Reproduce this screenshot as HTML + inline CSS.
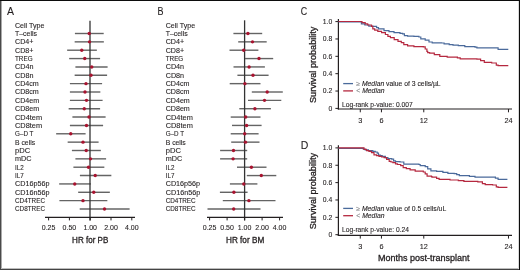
<!DOCTYPE html>
<html><head><meta charset="utf-8"><style>
html,body{margin:0;padding:0;background:#fff;}
#fig{position:relative;width:520px;height:270px;overflow:hidden;background:#fff;}
svg{position:absolute;left:0;top:0;font-family:"Liberation Sans", sans-serif;will-change:transform;}
</style></head><body><div id="fig">
<svg width="520" height="270" viewBox="0 0 520 270">
<rect x="0" y="0" width="520" height="270" fill="#fff"/>
<text x="6.9" y="14.8" font-size="10.5" fill="#231f20" stroke="#231f20" stroke-width="0.1">A</text>
<text x="15" y="27.74" font-size="7.3" fill="#231f20" stroke="#231f20" stroke-width="0.1" textLength="29.4" lengthAdjust="spacingAndGlyphs">Cell Type</text>
<text x="15" y="35.95" font-size="7.3" fill="#231f20" stroke="#231f20" stroke-width="0.1" textLength="22.0" lengthAdjust="spacingAndGlyphs">T–cells</text>
<text x="15" y="44.31" font-size="7.3" fill="#231f20" stroke="#231f20" stroke-width="0.1" textLength="18.4" lengthAdjust="spacingAndGlyphs">CD4+</text>
<text x="15" y="52.66" font-size="7.3" fill="#231f20" stroke="#231f20" stroke-width="0.1" textLength="18.4" lengthAdjust="spacingAndGlyphs">CD8+</text>
<text x="15" y="61.02" font-size="7.3" fill="#231f20" stroke="#231f20" stroke-width="0.1" textLength="17.6" lengthAdjust="spacingAndGlyphs">TREG</text>
<text x="15" y="69.38" font-size="7.3" fill="#231f20" stroke="#231f20" stroke-width="0.1" textLength="18.4" lengthAdjust="spacingAndGlyphs">CD4n</text>
<text x="15" y="77.73" font-size="7.3" fill="#231f20" stroke="#231f20" stroke-width="0.1" textLength="18.4" lengthAdjust="spacingAndGlyphs">CD8n</text>
<text x="15" y="86.09" font-size="7.3" fill="#231f20" stroke="#231f20" stroke-width="0.1" textLength="23.8" lengthAdjust="spacingAndGlyphs">CD4cm</text>
<text x="15" y="94.45" font-size="7.3" fill="#231f20" stroke="#231f20" stroke-width="0.1" textLength="23.8" lengthAdjust="spacingAndGlyphs">CD8cm</text>
<text x="15" y="102.81" font-size="7.3" fill="#231f20" stroke="#231f20" stroke-width="0.1" textLength="24.1" lengthAdjust="spacingAndGlyphs">CD4em</text>
<text x="15" y="111.16" font-size="7.3" fill="#231f20" stroke="#231f20" stroke-width="0.1" textLength="24.1" lengthAdjust="spacingAndGlyphs">CD8em</text>
<text x="15" y="119.52" font-size="7.3" fill="#231f20" stroke="#231f20" stroke-width="0.1" textLength="27.1" lengthAdjust="spacingAndGlyphs">CD4tem</text>
<text x="15" y="127.88" font-size="7.3" fill="#231f20" stroke="#231f20" stroke-width="0.1" textLength="27.1" lengthAdjust="spacingAndGlyphs">CD8tem</text>
<text x="15" y="136.23" font-size="7.3" fill="#231f20" stroke="#231f20" stroke-width="0.1" textLength="18.4" lengthAdjust="spacingAndGlyphs">G–D T</text>
<text x="15" y="144.59" font-size="7.3" fill="#231f20" stroke="#231f20" stroke-width="0.1" textLength="20.1" lengthAdjust="spacingAndGlyphs">B cells</text>
<text x="15" y="152.95" font-size="7.3" fill="#231f20" stroke="#231f20" stroke-width="0.1" textLength="15.2" lengthAdjust="spacingAndGlyphs">pDC</text>
<text x="15" y="161.3" font-size="7.3" fill="#231f20" stroke="#231f20" stroke-width="0.1" textLength="16.5" lengthAdjust="spacingAndGlyphs">mDC</text>
<text x="15" y="169.66" font-size="7.3" fill="#231f20" stroke="#231f20" stroke-width="0.1" textLength="8.7" lengthAdjust="spacingAndGlyphs">IL2</text>
<text x="15" y="178.02" font-size="7.3" fill="#231f20" stroke="#231f20" stroke-width="0.1" textLength="8.7" lengthAdjust="spacingAndGlyphs">IL7</text>
<text x="15" y="186.38" font-size="7.3" fill="#231f20" stroke="#231f20" stroke-width="0.1" textLength="34.4" lengthAdjust="spacingAndGlyphs">CD16p56p</text>
<text x="15" y="194.73" font-size="7.3" fill="#231f20" stroke="#231f20" stroke-width="0.1" textLength="34.6" lengthAdjust="spacingAndGlyphs">CD16n56p</text>
<text x="15" y="203.09" font-size="7.3" fill="#231f20" stroke="#231f20" stroke-width="0.1" textLength="30.0" lengthAdjust="spacingAndGlyphs">CD4TREC</text>
<text x="15" y="211.45" font-size="7.3" fill="#231f20" stroke="#231f20" stroke-width="0.1" textLength="30.0" lengthAdjust="spacingAndGlyphs">CD8TREC</text>
<line x1="74.9" y1="33.5" x2="103.7" y2="33.5" stroke="#646464" stroke-width="1.4"/>
<line x1="74.65" y1="41.86" x2="103.85" y2="41.86" stroke="#646464" stroke-width="1.4"/>
<line x1="67.15" y1="50.21" x2="96.85" y2="50.21" stroke="#646464" stroke-width="1.4"/>
<line x1="69.15" y1="58.57" x2="100.1" y2="58.57" stroke="#646464" stroke-width="1.4"/>
<line x1="75.4" y1="66.93" x2="107.6" y2="66.93" stroke="#646464" stroke-width="1.4"/>
<line x1="74.65" y1="75.28" x2="107.1" y2="75.28" stroke="#646464" stroke-width="1.4"/>
<line x1="69.9" y1="83.64" x2="102.1" y2="83.64" stroke="#646464" stroke-width="1.4"/>
<line x1="69.9" y1="92" x2="100.35" y2="92" stroke="#646464" stroke-width="1.4"/>
<line x1="69.9" y1="100.36" x2="102.6" y2="100.36" stroke="#646464" stroke-width="1.4"/>
<line x1="68.65" y1="108.71" x2="100.1" y2="108.71" stroke="#646464" stroke-width="1.4"/>
<line x1="72.4" y1="117.07" x2="105.6" y2="117.07" stroke="#646464" stroke-width="1.4"/>
<line x1="69.9" y1="125.43" x2="103.1" y2="125.43" stroke="#646464" stroke-width="1.4"/>
<line x1="56.15" y1="133.78" x2="85.6" y2="133.78" stroke="#646464" stroke-width="1.4"/>
<line x1="67.65" y1="142.14" x2="98.6" y2="142.14" stroke="#646464" stroke-width="1.4"/>
<line x1="71.9" y1="150.5" x2="100.85" y2="150.5" stroke="#646464" stroke-width="1.4"/>
<line x1="75.4" y1="158.85" x2="106.1" y2="158.85" stroke="#646464" stroke-width="1.4"/>
<line x1="73.4" y1="167.21" x2="104.35" y2="167.21" stroke="#646464" stroke-width="1.4"/>
<line x1="79.9" y1="175.57" x2="111.35" y2="175.57" stroke="#646464" stroke-width="1.4"/>
<line x1="59.15" y1="183.93" x2="90.85" y2="183.93" stroke="#646464" stroke-width="1.4"/>
<line x1="78.15" y1="192.28" x2="109.85" y2="192.28" stroke="#646464" stroke-width="1.4"/>
<line x1="59.4" y1="200.64" x2="107.35" y2="200.64" stroke="#646464" stroke-width="1.4"/>
<line x1="79.7" y1="209" x2="129.6" y2="209" stroke="#646464" stroke-width="1.4"/>
<line x1="90" y1="20.8" x2="90" y2="220.4" stroke="#333" stroke-width="1.3"/>
<circle cx="89.2" cy="33.5" r="1.7" fill="#a8132f"/>
<circle cx="89.5" cy="41.86" r="1.7" fill="#a8132f"/>
<circle cx="81.75" cy="50.21" r="1.7" fill="#a8132f"/>
<circle cx="84.75" cy="58.57" r="1.7" fill="#a8132f"/>
<circle cx="91.75" cy="66.93" r="1.7" fill="#a8132f"/>
<circle cx="91" cy="75.28" r="1.7" fill="#a8132f"/>
<circle cx="86" cy="83.64" r="1.7" fill="#a8132f"/>
<circle cx="85" cy="92" r="1.7" fill="#a8132f"/>
<circle cx="86.5" cy="100.36" r="1.7" fill="#a8132f"/>
<circle cx="84.25" cy="108.71" r="1.7" fill="#a8132f"/>
<circle cx="89" cy="117.07" r="1.7" fill="#a8132f"/>
<circle cx="86.5" cy="125.43" r="1.7" fill="#a8132f"/>
<circle cx="70.75" cy="133.78" r="1.7" fill="#a8132f"/>
<circle cx="83" cy="142.14" r="1.7" fill="#a8132f"/>
<circle cx="86.25" cy="150.5" r="1.7" fill="#a8132f"/>
<circle cx="90.5" cy="158.85" r="1.7" fill="#a8132f"/>
<circle cx="88.5" cy="167.21" r="1.7" fill="#a8132f"/>
<circle cx="95.25" cy="175.57" r="1.7" fill="#a8132f"/>
<circle cx="74.75" cy="183.93" r="1.7" fill="#a8132f"/>
<circle cx="93.75" cy="192.28" r="1.7" fill="#a8132f"/>
<circle cx="83" cy="200.64" r="1.7" fill="#a8132f"/>
<circle cx="104.5" cy="209" r="1.7" fill="#a8132f"/>
<line x1="45" y1="217.4" x2="135" y2="217.4" stroke="#231f20" stroke-width="1.2"/>
<line x1="48.6" y1="217.4" x2="48.6" y2="220.4" stroke="#231f20" stroke-width="1"/>
<text x="48.6" y="229.8" font-size="7" text-anchor="middle" fill="#231f20" stroke="#231f20" stroke-width="0.1">0.25</text>
<line x1="69.4" y1="217.4" x2="69.4" y2="220.4" stroke="#231f20" stroke-width="1"/>
<text x="69.4" y="229.8" font-size="7" text-anchor="middle" fill="#231f20" stroke="#231f20" stroke-width="0.1">0.50</text>
<line x1="90.2" y1="217.4" x2="90.2" y2="220.4" stroke="#231f20" stroke-width="1"/>
<text x="90.2" y="229.8" font-size="7" text-anchor="middle" fill="#231f20" stroke="#231f20" stroke-width="0.1">1.00</text>
<line x1="111" y1="217.4" x2="111" y2="220.4" stroke="#231f20" stroke-width="1"/>
<text x="111" y="229.8" font-size="7" text-anchor="middle" fill="#231f20" stroke="#231f20" stroke-width="0.1">2.00</text>
<line x1="131.8" y1="217.4" x2="131.8" y2="220.4" stroke="#231f20" stroke-width="1"/>
<text x="131.8" y="229.8" font-size="7" text-anchor="middle" fill="#231f20" stroke="#231f20" stroke-width="0.1">4.00</text>
<text x="90.2" y="243.1" font-size="8.6" text-anchor="middle" fill="#231f20" stroke="#231f20" stroke-width="0.3" textLength="36.2" lengthAdjust="spacingAndGlyphs">HR for PB</text>
<text x="157.6" y="14.8" font-size="10.5" fill="#231f20" stroke="#231f20" stroke-width="0.1" textLength="6.0" lengthAdjust="spacingAndGlyphs">B</text>
<text x="165.7" y="27.74" font-size="7.3" fill="#231f20" stroke="#231f20" stroke-width="0.1" textLength="29.4" lengthAdjust="spacingAndGlyphs">Cell Type</text>
<text x="165.7" y="35.95" font-size="7.3" fill="#231f20" stroke="#231f20" stroke-width="0.1" textLength="22.0" lengthAdjust="spacingAndGlyphs">T–cells</text>
<text x="165.7" y="44.31" font-size="7.3" fill="#231f20" stroke="#231f20" stroke-width="0.1" textLength="18.4" lengthAdjust="spacingAndGlyphs">CD4+</text>
<text x="165.7" y="52.66" font-size="7.3" fill="#231f20" stroke="#231f20" stroke-width="0.1" textLength="18.4" lengthAdjust="spacingAndGlyphs">CD8+</text>
<text x="165.7" y="61.02" font-size="7.3" fill="#231f20" stroke="#231f20" stroke-width="0.1" textLength="17.6" lengthAdjust="spacingAndGlyphs">TREG</text>
<text x="165.7" y="69.38" font-size="7.3" fill="#231f20" stroke="#231f20" stroke-width="0.1" textLength="18.4" lengthAdjust="spacingAndGlyphs">CD4n</text>
<text x="165.7" y="77.73" font-size="7.3" fill="#231f20" stroke="#231f20" stroke-width="0.1" textLength="18.4" lengthAdjust="spacingAndGlyphs">CD8n</text>
<text x="165.7" y="86.09" font-size="7.3" fill="#231f20" stroke="#231f20" stroke-width="0.1" textLength="23.8" lengthAdjust="spacingAndGlyphs">CD4cm</text>
<text x="165.7" y="94.45" font-size="7.3" fill="#231f20" stroke="#231f20" stroke-width="0.1" textLength="23.8" lengthAdjust="spacingAndGlyphs">CD8cm</text>
<text x="165.7" y="102.81" font-size="7.3" fill="#231f20" stroke="#231f20" stroke-width="0.1" textLength="24.1" lengthAdjust="spacingAndGlyphs">CD4em</text>
<text x="165.7" y="111.16" font-size="7.3" fill="#231f20" stroke="#231f20" stroke-width="0.1" textLength="24.1" lengthAdjust="spacingAndGlyphs">CD8em</text>
<text x="165.7" y="119.52" font-size="7.3" fill="#231f20" stroke="#231f20" stroke-width="0.1" textLength="27.1" lengthAdjust="spacingAndGlyphs">CD4tem</text>
<text x="165.7" y="127.88" font-size="7.3" fill="#231f20" stroke="#231f20" stroke-width="0.1" textLength="27.1" lengthAdjust="spacingAndGlyphs">CD8tem</text>
<text x="165.7" y="136.23" font-size="7.3" fill="#231f20" stroke="#231f20" stroke-width="0.1" textLength="18.4" lengthAdjust="spacingAndGlyphs">G–D T</text>
<text x="165.7" y="144.59" font-size="7.3" fill="#231f20" stroke="#231f20" stroke-width="0.1" textLength="20.1" lengthAdjust="spacingAndGlyphs">B cells</text>
<text x="165.7" y="152.95" font-size="7.3" fill="#231f20" stroke="#231f20" stroke-width="0.1" textLength="15.2" lengthAdjust="spacingAndGlyphs">pDC</text>
<text x="165.7" y="161.3" font-size="7.3" fill="#231f20" stroke="#231f20" stroke-width="0.1" textLength="16.5" lengthAdjust="spacingAndGlyphs">mDC</text>
<text x="165.7" y="169.66" font-size="7.3" fill="#231f20" stroke="#231f20" stroke-width="0.1" textLength="8.7" lengthAdjust="spacingAndGlyphs">IL2</text>
<text x="165.7" y="178.02" font-size="7.3" fill="#231f20" stroke="#231f20" stroke-width="0.1" textLength="8.7" lengthAdjust="spacingAndGlyphs">IL7</text>
<text x="165.7" y="186.38" font-size="7.3" fill="#231f20" stroke="#231f20" stroke-width="0.1" textLength="34.4" lengthAdjust="spacingAndGlyphs">CD16p56p</text>
<text x="165.7" y="194.73" font-size="7.3" fill="#231f20" stroke="#231f20" stroke-width="0.1" textLength="34.6" lengthAdjust="spacingAndGlyphs">CD16n56p</text>
<text x="165.7" y="203.09" font-size="7.3" fill="#231f20" stroke="#231f20" stroke-width="0.1" textLength="30.0" lengthAdjust="spacingAndGlyphs">CD4TREC</text>
<text x="165.7" y="211.45" font-size="7.3" fill="#231f20" stroke="#231f20" stroke-width="0.1" textLength="30.0" lengthAdjust="spacingAndGlyphs">CD8TREC</text>
<line x1="233.4" y1="33.5" x2="262.2" y2="33.5" stroke="#646464" stroke-width="1.4"/>
<line x1="238.2" y1="41.86" x2="266.7" y2="41.86" stroke="#646464" stroke-width="1.4"/>
<line x1="229.5" y1="50.21" x2="258.4" y2="50.21" stroke="#646464" stroke-width="1.4"/>
<line x1="245.1" y1="58.57" x2="273.2" y2="58.57" stroke="#646464" stroke-width="1.4"/>
<line x1="233.5" y1="66.93" x2="264.9" y2="66.93" stroke="#646464" stroke-width="1.4"/>
<line x1="237.4" y1="75.28" x2="268.6" y2="75.28" stroke="#646464" stroke-width="1.4"/>
<line x1="229.7" y1="83.64" x2="260.5" y2="83.64" stroke="#646464" stroke-width="1.4"/>
<line x1="251.8" y1="92" x2="282.8" y2="92" stroke="#646464" stroke-width="1.4"/>
<line x1="248" y1="100.36" x2="281.3" y2="100.36" stroke="#646464" stroke-width="1.4"/>
<line x1="239.3" y1="108.71" x2="270.9" y2="108.71" stroke="#646464" stroke-width="1.4"/>
<line x1="230.7" y1="117.07" x2="260.5" y2="117.07" stroke="#646464" stroke-width="1.4"/>
<line x1="232" y1="125.43" x2="261.6" y2="125.43" stroke="#646464" stroke-width="1.4"/>
<line x1="230.7" y1="133.78" x2="258.6" y2="133.78" stroke="#646464" stroke-width="1.4"/>
<line x1="231.2" y1="142.14" x2="259.5" y2="142.14" stroke="#646464" stroke-width="1.4"/>
<line x1="220.1" y1="150.5" x2="247.2" y2="150.5" stroke="#646464" stroke-width="1.4"/>
<line x1="220.1" y1="158.85" x2="247.2" y2="158.85" stroke="#646464" stroke-width="1.4"/>
<line x1="237" y1="167.21" x2="266.5" y2="167.21" stroke="#646464" stroke-width="1.4"/>
<line x1="246.8" y1="175.57" x2="276.3" y2="175.57" stroke="#646464" stroke-width="1.4"/>
<line x1="229.9" y1="183.93" x2="257.4" y2="183.93" stroke="#646464" stroke-width="1.4"/>
<line x1="219.9" y1="192.28" x2="247.6" y2="192.28" stroke="#646464" stroke-width="1.4"/>
<line x1="222.8" y1="200.64" x2="275.5" y2="200.64" stroke="#646464" stroke-width="1.4"/>
<line x1="207.5" y1="209" x2="260.5" y2="209" stroke="#646464" stroke-width="1.4"/>
<line x1="244.6" y1="20.3" x2="244.6" y2="220.4" stroke="#333" stroke-width="1.3"/>
<circle cx="247.9" cy="33.5" r="1.7" fill="#a8132f"/>
<circle cx="252.5" cy="41.86" r="1.7" fill="#a8132f"/>
<circle cx="243.7" cy="50.21" r="1.7" fill="#a8132f"/>
<circle cx="259" cy="58.57" r="1.7" fill="#a8132f"/>
<circle cx="249.1" cy="66.93" r="1.7" fill="#a8132f"/>
<circle cx="253" cy="75.28" r="1.7" fill="#a8132f"/>
<circle cx="244.9" cy="83.64" r="1.7" fill="#a8132f"/>
<circle cx="267.2" cy="92" r="1.7" fill="#a8132f"/>
<circle cx="264.5" cy="100.36" r="1.7" fill="#a8132f"/>
<circle cx="254.9" cy="108.71" r="1.7" fill="#a8132f"/>
<circle cx="245.7" cy="117.07" r="1.7" fill="#a8132f"/>
<circle cx="246.6" cy="125.43" r="1.7" fill="#a8132f"/>
<circle cx="244.7" cy="133.78" r="1.7" fill="#a8132f"/>
<circle cx="245.5" cy="142.14" r="1.7" fill="#a8132f"/>
<circle cx="233.5" cy="150.5" r="1.7" fill="#a8132f"/>
<circle cx="233.1" cy="158.85" r="1.7" fill="#a8132f"/>
<circle cx="251.4" cy="167.21" r="1.7" fill="#a8132f"/>
<circle cx="261.3" cy="175.57" r="1.7" fill="#a8132f"/>
<circle cx="243.8" cy="183.93" r="1.7" fill="#a8132f"/>
<circle cx="233.9" cy="192.28" r="1.7" fill="#a8132f"/>
<circle cx="248.9" cy="200.64" r="1.7" fill="#a8132f"/>
<circle cx="233.7" cy="209" r="1.7" fill="#a8132f"/>
<line x1="207" y1="217.4" x2="283" y2="217.4" stroke="#231f20" stroke-width="1.2"/>
<line x1="209.6" y1="217.4" x2="209.6" y2="220.4" stroke="#231f20" stroke-width="1"/>
<text x="209.6" y="229.8" font-size="7" text-anchor="middle" fill="#231f20" stroke="#231f20" stroke-width="0.1">0.25</text>
<line x1="227.1" y1="217.4" x2="227.1" y2="220.4" stroke="#231f20" stroke-width="1"/>
<text x="227.1" y="229.8" font-size="7" text-anchor="middle" fill="#231f20" stroke="#231f20" stroke-width="0.1">0.50</text>
<line x1="244.6" y1="217.4" x2="244.6" y2="220.4" stroke="#231f20" stroke-width="1"/>
<text x="244.6" y="229.8" font-size="7" text-anchor="middle" fill="#231f20" stroke="#231f20" stroke-width="0.1">1.00</text>
<line x1="262.1" y1="217.4" x2="262.1" y2="220.4" stroke="#231f20" stroke-width="1"/>
<text x="262.1" y="229.8" font-size="7" text-anchor="middle" fill="#231f20" stroke="#231f20" stroke-width="0.1">2.00</text>
<line x1="279.6" y1="217.4" x2="279.6" y2="220.4" stroke="#231f20" stroke-width="1"/>
<text x="279.6" y="229.8" font-size="7" text-anchor="middle" fill="#231f20" stroke="#231f20" stroke-width="0.1">4.00</text>
<text x="245.1" y="243.1" font-size="8.6" text-anchor="middle" fill="#231f20" stroke="#231f20" stroke-width="0.3" textLength="38.2" lengthAdjust="spacingAndGlyphs">HR for BM</text>
<text x="300.8" y="15" font-size="10.5" fill="#231f20" stroke="#231f20" stroke-width="0.1" textLength="6.4" lengthAdjust="spacingAndGlyphs">C</text>
<text transform="translate(316.3,64.8) rotate(-90)" font-size="9.1" text-anchor="middle" fill="#231f20" stroke="#231f20" stroke-width="0.3">Survival probability</text>
<line x1="335.4" y1="21.6" x2="338.5" y2="21.6" stroke="#231f20" stroke-width="1"/>
<text x="332.3" y="24" font-size="6.8" text-anchor="end" fill="#231f20" stroke="#231f20" stroke-width="0.1">1.0</text>
<line x1="335.4" y1="38.96" x2="338.5" y2="38.96" stroke="#231f20" stroke-width="1"/>
<text x="332.3" y="41.36" font-size="6.8" text-anchor="end" fill="#231f20" stroke="#231f20" stroke-width="0.1">0.8</text>
<line x1="335.4" y1="56.32" x2="338.5" y2="56.32" stroke="#231f20" stroke-width="1"/>
<text x="332.3" y="58.72" font-size="6.8" text-anchor="end" fill="#231f20" stroke="#231f20" stroke-width="0.1">0.6</text>
<line x1="335.4" y1="73.68" x2="338.5" y2="73.68" stroke="#231f20" stroke-width="1"/>
<text x="332.3" y="76.08" font-size="6.8" text-anchor="end" fill="#231f20" stroke="#231f20" stroke-width="0.1">0.4</text>
<line x1="335.4" y1="91.04" x2="338.5" y2="91.04" stroke="#231f20" stroke-width="1"/>
<text x="332.3" y="93.44" font-size="6.8" text-anchor="end" fill="#231f20" stroke="#231f20" stroke-width="0.1">0.2</text>
<line x1="335.4" y1="108.4" x2="338.5" y2="108.4" stroke="#231f20" stroke-width="1"/>
<text x="332.3" y="110.8" font-size="6.8" text-anchor="end" fill="#231f20" stroke="#231f20" stroke-width="0.1">0</text>
<line x1="338.4" y1="18.9" x2="338.4" y2="109.6" stroke="#231f20" stroke-width="1.2"/>
<line x1="337.8" y1="109" x2="512" y2="109" stroke="#231f20" stroke-width="1.2"/>
<line x1="360.27" y1="109" x2="360.27" y2="112.3" stroke="#231f20" stroke-width="1"/>
<text x="360.27" y="122.6" font-size="7.3" text-anchor="middle" fill="#231f20" stroke="#231f20" stroke-width="0.1">3</text>
<line x1="381.44" y1="109" x2="381.44" y2="112.3" stroke="#231f20" stroke-width="1"/>
<text x="381.44" y="122.6" font-size="7.3" text-anchor="middle" fill="#231f20" stroke="#231f20" stroke-width="0.1">6</text>
<line x1="423.78" y1="109" x2="423.78" y2="112.3" stroke="#231f20" stroke-width="1"/>
<text x="423.78" y="122.6" font-size="7.3" text-anchor="middle" fill="#231f20" stroke="#231f20" stroke-width="0.1">12</text>
<line x1="508.47" y1="109" x2="508.47" y2="112.3" stroke="#231f20" stroke-width="1"/>
<text x="508.47" y="122.6" font-size="7.3" text-anchor="middle" fill="#231f20" stroke="#231f20" stroke-width="0.1">24</text>
<path d="M338.5,21.8H361.4V21.8H361.4V23.8H364.8V25H368.8V26.1H372.8V26.3H376.6V27.6H378.5V28.9H384V30.7H389V31.6H394V32.6H400V33.3H402.6V33.9H404.4V35.7H407.6V36.1H413.9V36.4H418.9V37H420.8V38.9H425.2V40.1H429V42H432.2V42.9H441.6V43H444.1V43.9H449.2V44.6H453V45.2H458.3V45.7H464.8V46.7H475V47.2H476.9V47.8H495.4V47.8H498.1V49.4H508.3V49.4" fill="none" stroke="#4a6a9b" stroke-width="1.2"/>
<path d="M338.5,21.5H361.4V21.5H362V22.6H365.2V23.8H367.7V25H371.5V26.3H372.8V28.9H374.7V30.1H377.8V31.4H381.6V32.6H385.4V34.5H387.9V36.4H390.4V37.7H394.2V39.6H398V41.4H401.3V42.7H403.8V44.6H407.6V45.8H413.9V46.7H423.3V46.8H425.2V49H426.9V51.3H427.7V52.7H429.6V53.1H434.3V54.6H439.8V56.3H447.2V57.2H457.4V57.8H460.2V58.9H476.9V59.1H480.6V60.6H484.3V62.4H491.7V63H496.3V65.2H498.1V65.7H508.3V65.7" fill="none" stroke="#b5283f" stroke-width="1.2"/>
<line x1="343.2" y1="83.6" x2="353" y2="83.6" stroke="#4a6a9b" stroke-width="1.3"/>
<line x1="343.2" y1="90.9" x2="353" y2="90.9" stroke="#b5283f" stroke-width="1.3"/>
<text x="356.3" y="86.1" font-size="6.8" fill="#231f20" stroke="#231f20" stroke-width="0.1"><tspan fill="#808285" stroke="#808285">≥</tspan> <tspan font-style="italic">Median</tspan> value of 3 cells/µL</text>
<text x="356.3" y="93.4" font-size="6.8" fill="#231f20" stroke="#231f20" stroke-width="0.1"><tspan fill="#808285" stroke="#808285">&lt;</tspan> <tspan font-style="italic">Median</tspan></text>
<text x="342" y="106.5" font-size="6.7" fill="#231f20" stroke="#231f20" stroke-width="0.1">Log-rank p-value: 0.007</text>
<text x="300.8" y="148.7" font-size="10.5" fill="#231f20" stroke="#231f20" stroke-width="0.1">D</text>
<text transform="translate(316.3,191.1) rotate(-90)" font-size="9.1" text-anchor="middle" fill="#231f20" stroke="#231f20" stroke-width="0.3">Survival probability</text>
<line x1="335.4" y1="147.9" x2="338.5" y2="147.9" stroke="#231f20" stroke-width="1"/>
<text x="332.3" y="150.3" font-size="6.8" text-anchor="end" fill="#231f20" stroke="#231f20" stroke-width="0.1">1.0</text>
<line x1="335.4" y1="165.26" x2="338.5" y2="165.26" stroke="#231f20" stroke-width="1"/>
<text x="332.3" y="167.66" font-size="6.8" text-anchor="end" fill="#231f20" stroke="#231f20" stroke-width="0.1">0.8</text>
<line x1="335.4" y1="182.62" x2="338.5" y2="182.62" stroke="#231f20" stroke-width="1"/>
<text x="332.3" y="185.02" font-size="6.8" text-anchor="end" fill="#231f20" stroke="#231f20" stroke-width="0.1">0.6</text>
<line x1="335.4" y1="199.98" x2="338.5" y2="199.98" stroke="#231f20" stroke-width="1"/>
<text x="332.3" y="202.38" font-size="6.8" text-anchor="end" fill="#231f20" stroke="#231f20" stroke-width="0.1">0.4</text>
<line x1="335.4" y1="217.34" x2="338.5" y2="217.34" stroke="#231f20" stroke-width="1"/>
<text x="332.3" y="219.74" font-size="6.8" text-anchor="end" fill="#231f20" stroke="#231f20" stroke-width="0.1">0.2</text>
<line x1="335.4" y1="234.7" x2="338.5" y2="234.7" stroke="#231f20" stroke-width="1"/>
<text x="332.3" y="237.1" font-size="6.8" text-anchor="end" fill="#231f20" stroke="#231f20" stroke-width="0.1">0</text>
<line x1="338.4" y1="145.2" x2="338.4" y2="235.9" stroke="#231f20" stroke-width="1.2"/>
<line x1="337.8" y1="235.3" x2="512" y2="235.3" stroke="#231f20" stroke-width="1.2"/>
<line x1="360.27" y1="235.3" x2="360.27" y2="238.6" stroke="#231f20" stroke-width="1"/>
<text x="360.27" y="248.9" font-size="7.3" text-anchor="middle" fill="#231f20" stroke="#231f20" stroke-width="0.1">3</text>
<line x1="381.44" y1="235.3" x2="381.44" y2="238.6" stroke="#231f20" stroke-width="1"/>
<text x="381.44" y="248.9" font-size="7.3" text-anchor="middle" fill="#231f20" stroke="#231f20" stroke-width="0.1">6</text>
<line x1="423.78" y1="235.3" x2="423.78" y2="238.6" stroke="#231f20" stroke-width="1"/>
<text x="423.78" y="248.9" font-size="7.3" text-anchor="middle" fill="#231f20" stroke="#231f20" stroke-width="0.1">12</text>
<line x1="508.47" y1="235.3" x2="508.47" y2="238.6" stroke="#231f20" stroke-width="1"/>
<text x="508.47" y="248.9" font-size="7.3" text-anchor="middle" fill="#231f20" stroke="#231f20" stroke-width="0.1">24</text>
<path d="M338.5,148.3H362.7V148.3H363.3V149.1H365.2V149.8H368.4V150.7H371.5V150.7H372.8V151.3H375.3V152H377.2V153.2H378.5V155.1H380.3V155.7H382.2V156.4H385.4V157.6H387.9V158.6H391.7V159.1H393.6V160.8H395.5V161.7H400V162H402.6V162H403.8V164.1H418.9V164.5H420.2V165.7H425.2V166.6H427.7V168.9H430.9V170.8H436.6V171.4H442.9V172.4H447.9V173.3H454.2V173.7H456.7V174.6H459.3V175.7H469.4V176.3H475V177.2H491.7V177.2H495.4V178.1H498.1V179.4H507.4V179.4" fill="none" stroke="#4a6a9b" stroke-width="1.2"/>
<path d="M338.5,147.9H362.7V147.9H364V149.4H366.5V150.7H369V151.3H371.5V152.6H374V154.9H376.6V155.7H379V156.4H381.6V157H384.1V157.6H386.6V159.5H389.2V161.4H391V162H392.9V162.7H395.5V163.9H397.5V164.5H400.7V165.7H403.2V167.6H406.3V168.6H410.1V169.9H415.2V171.2H423.3V172H425.2V173.9H427.1V176.2H431.5V176.8H432.4V177.2H436.6V178.3H439.1V179.3H450V180H458.3V180.6H463.9V181.3H477.8V181.9H482.4V183.7H485.2V184.6H492.6V185H496.3V186.9H498.1V187.4H507.4V187.4" fill="none" stroke="#b5283f" stroke-width="1.2"/>
<line x1="343.2" y1="208.4" x2="353" y2="208.4" stroke="#4a6a9b" stroke-width="1.3"/>
<line x1="343.2" y1="215.7" x2="353" y2="215.7" stroke="#b5283f" stroke-width="1.3"/>
<text x="356.3" y="210.9" font-size="6.8" fill="#231f20" stroke="#231f20" stroke-width="0.1"><tspan fill="#808285" stroke="#808285">≥</tspan> <tspan font-style="italic">Median</tspan> value of 0.5 cells/uL</text>
<text x="356.3" y="218.2" font-size="6.8" fill="#231f20" stroke="#231f20" stroke-width="0.1"><tspan fill="#808285" stroke="#808285">&lt;</tspan> <tspan font-style="italic">Median</tspan></text>
<text x="342" y="232.3" font-size="6.7" fill="#231f20" stroke="#231f20" stroke-width="0.1">Log-rank p-value: 0.24</text>
<text x="423.8" y="260.8" font-size="9" text-anchor="middle" fill="#231f20" stroke="#231f20" stroke-width="0.3">Months post-transplant</text>
<g shape-rendering="crispEdges">
<rect x="1" y="0" width="1" height="270" fill="#aaaaaa"/>
<rect x="0" y="268" width="520" height="1" fill="#bdbdbd"/>
<rect x="518" y="0" width="1" height="270" fill="#dadada"/>
<rect x="0" y="0" width="1" height="270" fill="#4a4a4a"/>
<rect x="0" y="269" width="520" height="1" fill="#444444"/>
<rect x="519" y="0" width="1" height="270" fill="#0c0c0c"/>
<rect x="0" y="0" width="520" height="1" fill="#0c0c0c"/>
</g>
</svg></div></body></html>
